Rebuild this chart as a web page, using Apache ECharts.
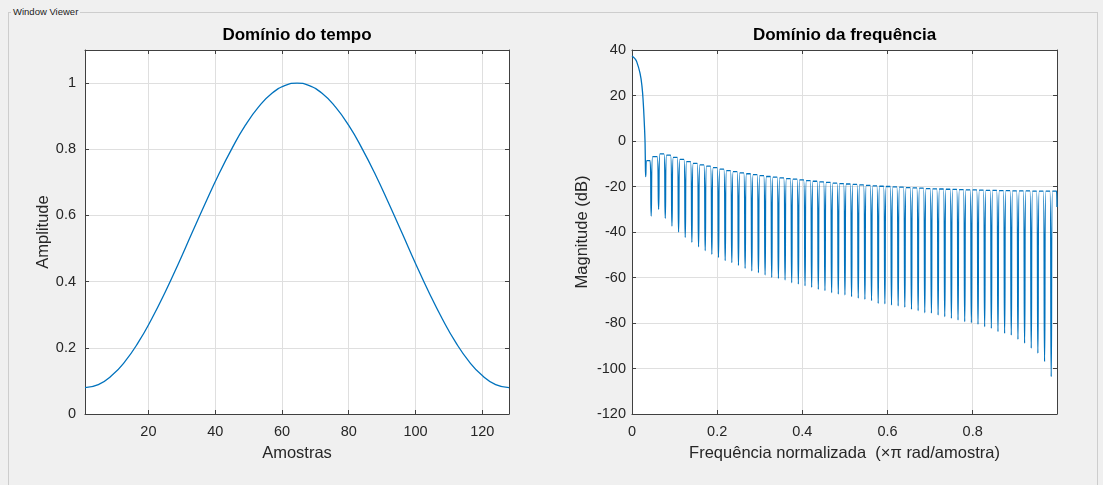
<!DOCTYPE html>
<html>
<head>
    <meta charset="utf-8">
    <title>Window Viewer</title>
    <script src="https://cdn.jsdelivr.net/npm/echarts@6.0.0/dist/echarts.min.js"></script>
    <style>
        body{
            margin:0;
            background:#f0f0f0;
        }
        .frame{
            position:absolute;
            left:8px;
            top:12px;
            width:1088px;
            height:480px;
            border:1px solid #cdcdcd;
        }
        .frameLabel{
            position:absolute;
            left:11px;
            top:5px;
            padding:0 2px;
            background:#f0f0f0;
            font-family:"Liberation Sans",Arial,sans-serif;
            font-size:9.5px;
            color:#222;
            line-height:13px;
        }
        #main{
            position:absolute;
            left:0;
            top:0;
            width:1103px;
            height:485px;
        }
    </style>
</head>
<body>
    <div class="frame"></div>
    <div class="frameLabel">Window Viewer</div>
    <div id="main"></div>

    <script type="text/javascript">
        // dominio do tempo (amostra, amplitude)
        var samples = [1, 5, 9, 13, 17, 21, 25, 29, 33, 37, 41, 45, 49, 53, 57, 61, 64.5,
                       68, 72, 76, 80, 84, 88, 92, 96, 100, 104, 108, 112, 116, 120, 124, 128];
        var amplitude = [0.08, 0.089, 0.116, 0.159, 0.217, 0.288, 0.368, 0.455, 0.546, 0.636, 0.723, 0.802, 0.872, 0.928, 0.969, 0.993, 1.0,
                         0.993, 0.969, 0.928, 0.872, 0.802, 0.723, 0.636, 0.546, 0.455, 0.368, 0.288, 0.217, 0.159, 0.116, 0.089, 0.08];
        var timeXTicks = [20, 40, 60, 80, 100, 120];
        var timeYTicks = [0, 0.2, 0.4, 0.6, 0.8, 1];

        // dominio da frequencia: lobo principal
        var mainLobeFreq = [0, 0.0063, 0.011, 0.0188, 0.0235, 0.0265, 0.0289, 0.0305, 0.0312];
        var mainLobeDb = [37.3, 36.3, 34.9, 29.8, 23.9, 16.6, 7.8, 0.4, -6.9];
        // minimos entre lobulos laterais
        var dipFreq = [0.0322, 0.045, 0.0625, 0.0781, 0.0938, 0.1094, 0.125, 0.1406, 0.1563, 0.1719,
                       0.1875, 0.2031, 0.2188, 0.2344, 0.25, 0.2656, 0.2813, 0.2969, 0.3125, 0.3281,
                       0.3438, 0.3594, 0.375, 0.3906, 0.4063, 0.4219, 0.4375, 0.4531, 0.4688, 0.4844,
                       0.5, 0.5156, 0.5313, 0.5469, 0.5625, 0.5781, 0.5938, 0.6094, 0.625, 0.6406,
                       0.6563, 0.6719, 0.6875, 0.7031, 0.7188, 0.7344, 0.75, 0.7656, 0.7813, 0.7969,
                       0.8125, 0.8281, 0.8438, 0.8594, 0.875, 0.8906, 0.9063, 0.9219, 0.9375, 0.9531,
                       0.9688, 0.9844];
        var dipDb = [-15.7, -33.0, -30.0, -34.0, -37.4, -40.0, -42.4, -44.5, -46.5, -48.2,
                     -49.8, -51.2, -52.6, -53.5, -54.7, -56.0, -57.1, -57.9, -58.9, -60.0,
                     -60.4, -61.1, -62.3, -62.9, -63.7, -64.3, -65.2, -65.8, -66.7, -67.3,
                     -67.7, -68.4, -69.1, -69.6, -70.2, -71.4, -71.6, -72.1, -72.5, -73.1,
                     -74.0, -74.6, -75.5, -75.7, -76.5, -77.2, -78.0, -78.7, -79.4, -79.9,
                     -80.6, -81.6, -82.4, -83.8, -84.6, -85.3, -87.2, -88.9, -91.1, -93.3,
                     -97.0, -103.6];
        // topo de cada lobulo lateral (entre dois minimos)
        var lobePeakDb = [-8.6, -6.9, -5.7, -6.2, -7.2, -8.1, -9.1, -9.8, -10.5, -11.0,
                          -11.7, -12.4, -13.0, -13.5, -14.0, -14.4, -14.8, -15.2, -15.6, -15.9,
                          -16.2, -16.5, -16.8, -17.1, -17.4, -17.7, -18.0, -18.2, -18.5, -18.7,
                          -18.9, -19.1, -19.3, -19.5, -19.7, -19.9, -20.0, -20.2, -20.3, -20.5,
                          -20.6, -20.7, -20.9, -21.0, -21.1, -21.2, -21.3, -21.4, -21.5, -21.5,
                          -21.6, -21.7, -21.7, -21.8, -21.8, -21.9, -21.9, -21.9, -22.0, -22.0,
                          -22.0];
        // ultimo lobulo, cortado na borda
        var tailFreq = [0.9875, 0.9969, 0.998];
        var tailDb = [-22.0, -22.0, -29.0];
        var freqXTicks = [0, 0.2, 0.4, 0.6, 0.8];
        var freqYTicks = [-120, -100, -80, -60, -40, -20, 0, 20, 40];

        var FONT = '"Liberation Sans", Arial, sans-serif';
        var BLUE = '#0072BD';
        var AXIS = '#404040';
        var GRID = '#dfdfdf';
        var TXT = '#262626';

        var timeData = [];
        for (var i = 0; i < samples.length; i++) {
            timeData.push([samples[i], amplitude[i]]);
        }

        // cada lobulo: minimo, dois pontos de topo, proximo minimo
        var freqData = [];
        for (var i = 0; i < mainLobeFreq.length; i++) {
            freqData.push([mainLobeFreq[i], mainLobeDb[i]]);
        }
        for (var k = 0; k < dipFreq.length; k++) {
            freqData.push([dipFreq[k], dipDb[k]]);
            if (k < lobePeakDb.length) {
                var w = dipFreq[k + 1] - dipFreq[k];
                freqData.push([dipFreq[k] + w * 0.2, lobePeakDb[k]]);
                freqData.push([dipFreq[k + 1] - w * 0.2, lobePeakDb[k]]);
            }
        }
        for (var i = 0; i < tailFreq.length; i++) {
            freqData.push([tailFreq[i], tailDb[i]]);
        }

        function mainAxis(gridIndex, pos, min, max, ticks, extra) {
            var a = {
                type: 'value',
                gridIndex: gridIndex,
                position: pos,
                min: min,
                max: max,
                axisLine: { show: true, onZero: false, lineStyle: { color: AXIS, width: 1 } },
                axisTick: { show: true, inside: true, length: 4, customValues: ticks, lineStyle: { color: AXIS } },
                axisLabel: { show: true, customValues: ticks, color: TXT, fontSize: 14.5, fontFamily: FONT },
                splitLine: { show: true, lineStyle: { color: GRID, width: 1 } },
                nameLocation: 'middle',
                nameTextStyle: { color: TXT, fontSize: 16.5, fontFamily: FONT }
            };
            for (var key in extra) a[key] = extra[key];
            return a;
        }
        function boxAxis(gridIndex, pos, min, max, ticks) {
            return {
                type: 'value',
                gridIndex: gridIndex,
                position: pos,
                min: min,
                max: max,
                axisLine: { show: true, onZero: false, lineStyle: { color: AXIS, width: 1 } },
                axisTick: { show: true, inside: true, length: 4, customValues: ticks, lineStyle: { color: AXIS } },
                axisLabel: { show: false },
                splitLine: { show: false }
            };
        }

        var xa0 = mainAxis(0, 'bottom', 1, 128, timeXTicks, { name: 'Amostras', nameGap: 31 });
        xa0.axisLabel.margin = 10;
        var ya0 = mainAxis(0, 'left', 0, 1.1, timeYTicks, { name: 'Amplitude', nameGap: 32 });
        ya0.axisLabel.margin = 9;
        var xa1 = mainAxis(1, 'bottom', 0, 0.998, freqXTicks, { name: 'Frequência normalizada  (×π rad/amostra)', nameGap: 31 });
        xa1.axisLabel.margin = 10;
        var ya1 = mainAxis(1, 'left', -120, 40, freqYTicks, { name: 'Magnitude (dB)', nameGap: 41 });
        ya1.axisLabel.margin = 6;

        var myChart = echarts.init(document.getElementById('main'), null, { renderer: 'canvas' });
        myChart.setOption({
            animation: false,
            backgroundColor: 'transparent',
            title: [
                {
                    text: 'Domínio do tempo',
                    left: 297, top: 27, textAlign: 'center', padding: 0,
                    textStyle: { fontSize: 17, fontWeight: 'bold', color: '#000', fontFamily: FONT }
                },
                {
                    text: 'Domínio da frequência',
                    left: 844.5, top: 27, textAlign: 'center', padding: 0,
                    textStyle: { fontSize: 17, fontWeight: 'bold', color: '#000', fontFamily: FONT }
                }
            ],
            grid: [
                { left: 85, top: 50, width: 424, height: 364, show: true, backgroundColor: '#ffffff', borderWidth: 0, outerBoundsMode: 'none' },
                { left: 632, top: 50, width: 425, height: 364, show: true, backgroundColor: '#ffffff', borderWidth: 0, outerBoundsMode: 'none' }
            ],
            xAxis: [
                xa0,
                boxAxis(0, 'top', 1, 128, timeXTicks),
                xa1,
                boxAxis(1, 'top', 0, 0.998, freqXTicks)
            ],
            yAxis: [
                ya0,
                boxAxis(0, 'right', 0, 1.1, timeYTicks),
                ya1,
                boxAxis(1, 'right', -120, 40, freqYTicks)
            ],
            series: [
                {
                    name: 'tempo',
                    type: 'line',
                    xAxisIndex: 0,
                    yAxisIndex: 0,
                    data: timeData,
                    smooth: true,
                    showSymbol: false,
                    lineStyle: { color: BLUE, width: 1.3 }
                },
                {
                    name: 'frequencia',
                    type: 'line',
                    xAxisIndex: 2,
                    yAxisIndex: 2,
                    data: freqData,
                    smooth: 0.45,
                    showSymbol: false,
                    sampling: null,
                    lineStyle: { color: BLUE, width: 1.3 }
                }
            ]
        });
    </script>
</body>
</html>
